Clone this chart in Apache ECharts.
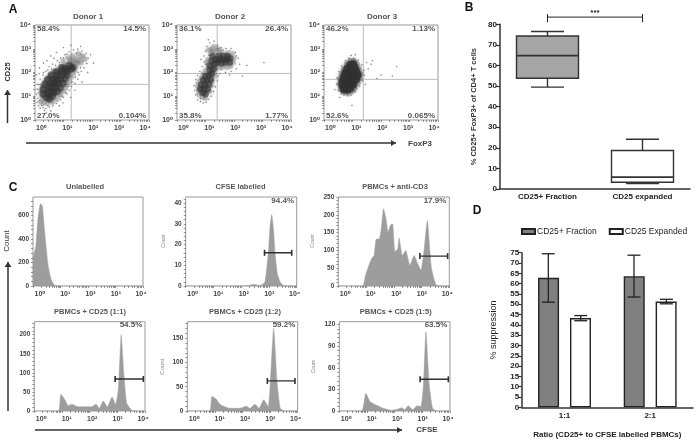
<!DOCTYPE html>
<html><head><meta charset="utf-8">
<style>html,body{margin:0;padding:0;background:#fff}#c{width:699px;height:445px;filter:blur(0.3px)}</style>
<script src="https://cdn.jsdelivr.net/npm/echarts@6/dist/echarts.min.js"></script>
</head><body><div id="c"></div>
<script>
// ---------- Panel A: flow plots, coordinates in decades (0..4) ----------
const donorNames = ['Donor 1','Donor 2','Donor 3'];
const donorGates = [[1.27,1.5],[1.41,1.96],[1.38,1.71]];
const donorPct = [['58.4%','14.5%','27.0%','0.104%'],['36.1%','26.4%','35.8%','1.77%'],['46.2%','1.13%','52.6%','0.065%']];
const d1Core = [[.4,.95],[.5,.9],[.6,1],[.3,1.1],[.45,1.15],[.55,1.2],[.65,1.15],[.78,1.2],[.3,1.3],[.48,1.35],[.6,1.4],[.72,1.38],[.88,1.35],[.36,1.5],[.55,1.55],[.68,1.55],[.8,1.55],[.98,1.55],[.45,1.7],[.62,1.72],[.75,1.7],[.88,1.72],[1.05,1.75],[.58,1.88],[.78,1.88],[.92,1.9],[1.12,1.9],[.75,2.02],[.95,2.05],[1.12,2.05],[1.25,2.15],[1.05,2.15],[.95,2.2],[1.2,2.28],[1.32,2.2]];
const d1Mid = [[.2,.75],[.3,.7],[.42,.72],[.55,.75],[.68,.82],[.8,.95],[.9,1.05],[1,1.2],[1.08,1.35],[1.12,1.48],[1.2,1.62],[1.28,1.8],[1.35,1.95],[1.4,2.1],[1.45,2.25],[1.5,2.4],[1.55,2.52],[1.35,2.5],[1.2,2.45],[1.05,2.35],[.9,2.25],[.78,2.12],[.65,2.05],[.52,1.9],[.42,1.75],[.32,1.6],[.25,1.42],[.2,1.25],[.22,1.05],[.25,.88],[1.3,2.3],[1.42,2.62],[1.6,2.65],[1.7,2.7],[1.75,2.55],[1.62,2.4],[1.15,2.62],[.98,2.5],[1.3,2.72],[1.52,2.8],[1.35,2.4],[1.45,2.45],[1.25,2.55]];
const d1Halo = [[.12,.6],[.18,.5],[.28,.52],[.38,.48],[.33,.4],[.5,.55],[.62,.6],[.75,.7],[.9,.85],[1,.95],[1.12,1.1],[1.2,1.25],[1.28,1.42],[1.4,1.55],[1.5,1.72],[1.55,1.9],[1.62,2.05],[1.72,2.2],[1.82,2.38],[1.86,2.6],[1.8,2.82],[1.65,2.9],[1.5,2.98],[1.35,2.95],[1.2,2.88],[1.05,2.75],[.9,2.62],[.78,2.5],[.62,2.35],[.5,2.25],[.38,2.05],[.28,1.9],[.18,1.72],[.1,1.5],[.08,1.3],[.06,1.1],[.1,.92],[.05,1.9],[.15,2.2],[.3,2.4],[.55,2.7],[.75,2.85],[1,3.05],[1.25,3.15],[1.6,3.1],[1.95,2.75],[2.05,2.4],[1.85,2],[1.65,1.6],[1.4,1.25],[1.25,.95],[.85,.6],[.55,.38],[.4,.3],[.98,.72],[.15,1.95],[.42,2.5],[.66,2.6],[.24,.62],[.15,.82],[.07,.75],[.18,1.5],[.14,1.15],[.3,2.0],[.45,2.1],[.58,2.15],[.72,2.3],[.85,2.42],[1,2.62],[1.12,2.78],[1.28,2.6],[1.45,2.8],[1.6,2.78],[1.68,2.5],[1.6,2.2],[1.52,2.0],[1.42,1.8],[1.3,1.6],[1.18,1.42],[1.08,1.15],[.95,1],[.8,.8],[.65,.68],[.45,.6]];
const d2Core = [[.9,1.15],[1,1.1],[.82,1.3],[.95,1.32],[1.08,1.3],[.85,1.48],[.98,1.5],[1.12,1.5],[.92,1.68],[1.05,1.68],[1.18,1.7],[1,1.85],[1.12,1.88],[1.22,1.95],[1.15,2.1],[1.28,2.15],[1.15,2.3],[1.3,2.35],[1.42,2.42],[1.22,2.5],[1.36,2.55],[1.5,2.55],[1.62,2.55],[1.75,2.55],[1.86,2.6],[1.46,2.7],[1.25,2.68],[1.7,2.42],[1.85,2.42],[1.56,2.38],[1.62,2.7],[1.78,2.7]];
const d2Mid = [[.78,1.05],[.9,.95],[1,.92],[.75,1.25],[.72,1.42],[.78,1.62],[.85,1.78],[.92,1.95],[1,2.1],[1.1,2.22],[1.3,2.05],[1.35,2.25],[1.45,2.2],[1.6,2.22],[1.75,2.22],[1.88,2.25],[1.98,2.42],[2,2.6],[1.95,2.8],[1.75,2.82],[1.55,2.85],[1.35,2.9],[1.18,2.8],[1.08,2.55],[1.05,2.42],[1.15,1.2],[1.22,1.45],[1.25,1.65],[1.32,1.85],[1.2,3],[1.3,3.1],[1.1,2.95],[1.42,3],[1.25,2.88],[1.5,2.95]];
const d2Halo = [[.72,.85],[.82,.78],[.92,.72],[1.02,.75],[1.12,.88],[.65,1.05],[.62,1.25],[.6,1.45],[.66,1.7],[.72,1.88],[.8,2.05],[.88,2.25],[.95,2.45],[.95,2.7],[1,2.9],[1.05,3.1],[1.15,3.25],[1.3,3.32],[1.42,3.15],[1.55,3.05],[1.72,3],[1.9,3.02],[2.05,2.85],[2.15,2.6],[2.2,2.35],[2.08,2.15],[1.9,2.05],[1.7,2],[1.5,1.95],[1.42,1.65],[1.35,1.4],[1.28,1.2],[1.2,1],[2.45,2.3],[3.05,2.42],[2.3,1.85],[1.45,1.85],[1.85,1.9],[1.1,3.38],[.84,2.55],[1,2.35],[1.12,2.72],[1.22,2.95],[1.42,3],[1.62,2.95],[1.85,2.92],[2.08,2.7],[1.4,2.12],[1.55,2.12],[1.38,1.95],[.7,1.1],[.68,1.55],[.82,.92]];
const d3Core = [[.7,1.3],[.82,1.28],[.92,1.35],[.65,1.45],[.78,1.45],[.9,1.5],[1.02,1.5],[.65,1.62],[.78,1.62],[.9,1.65],[1.02,1.68],[1.12,1.72],[.7,1.8],[.82,1.82],[.95,1.85],[1.08,1.88],[1.18,1.9],[.75,1.98],[.88,2],[1,2.05],[1.12,2.05],[.82,2.15],[.95,2.2],[1.07,2.2],[.92,2.32],[1.02,2.35]];
const d3Mid = [[.72,1.18],[.85,1.15],[.98,1.22],[1.08,1.35],[1.18,1.55],[1.26,1.75],[1.28,1.95],[1.22,2.15],[1.15,2.35],[1.05,2.48],[.92,2.48],[.8,2.35],[.7,2.15],[.62,1.95],[.57,1.75],[.55,1.52],[.6,1.3]];
const d3Halo = [[.7,1.05],[.82,1.02],[.95,1.05],[1.1,1.2],[1.25,1.42],[1.35,1.65],[1.42,1.88],[1.4,2.1],[1.32,2.32],[1.2,2.52],[1.05,2.6],[.88,2.6],[.75,2.5],[.62,2.28],[.52,2.05],[.46,1.78],[.45,1.5],[.5,1.25],[.6,1.1],[1.55,2.15],[1.65,2.35],[1.7,2.5],[1.5,2.42],[1.85,1.75],[2,1.9],[2.4,1.85],[2.55,2.25],[.55,.95],[.98,.62],[.95,2.72],[1.1,2.75],[1.45,1.5],[.38,1.28]];

// ---------- Panel C: histograms, x in decades (0..4) ----------
const histTitles = ['Unlabelled','CFSE labelled','PBMCs + anti-CD3','PBMCs + CD25 (1:1)','PBMCs + CD25 (1:2)','PBMCs + CD25 (1:5)'];
const histPct = ['', '94.4%', '17.9%', '54.5%', '59.2%', '63.5%'];
const histMax = [757, 42.9, 250, 234, 184, 124];
const histTicks = [[0,200,400,600],[0,10,20,30,40],[0,50,100,150,200,250],[0,50,100,150,200],[0,50,100,150],[0,30,60,90,120]];
const histGates = [null,[2.84,3.82,16],[2.94,3.94,84],[2.92,3.94,84],[2.9,3.9,62],[2.92,3.94,44]];
const hist1 = [[0,246],[.1,331],[.18,571],[.27,700],[.34,680],[.42,472],[.55,175],[.67,48],[.79,6],[.97,0],[4,0]];
const hist2 = [[0,0],[2.08,0],[2.26,.2],[2.44,.8],[2.62,.3],[2.74,.5],[2.86,2],[2.98,16.4],[3.04,29],[3.1,34.4],[3.16,28],[3.22,16],[3.3,6],[3.4,2],[3.52,.2],[4,0]];
const hist3 = [[0,0],[.88,0],[.98,30],[1.08,53],[1.2,77],[1.29,86],[1.36,131],[1.48,133],[1.55,161],[1.63,217],[1.72,189],[1.79,151],[1.89,172],[1.96,174],[2.04,97],[2.14,103],[2.19,135],[2.31,86],[2.43,100],[2.58,58],[2.73,86],[2.85,65],[2.98,44],[3.09,100],[3.21,184],[3.3,100],[3.36,49],[3.54,2],[4,0]];
const hist4 = [[0,0],[.87,0],[.96,44],[1.11,29],[1.23,14],[1.35,18],[1.59,11],[1.89,11],[2.07,11],[2.23,18],[2.35,7],[2.49,26],[2.64,11],[2.81,37],[2.94,17],[3.04,59],[3.14,200],[3.24,94],[3.34,20],[3.52,2],[3.64,0],[4,0]];
const hist5 = [[0,0],[.81,0],[.89,30],[1.04,25],[1.18,14],[1.36,9],[1.54,5.5],[1.9,5.5],[2.14,10],[2.27,5.5],[2.45,14],[2.6,5.5],[2.77,23],[2.93,9],[2.99,40],[3.13,170],[3.25,61],[3.37,5.5],[3.53,0],[4,0]];
const hist6 = [[0,0],[.81,0],[.96,24.5],[1.11,13],[1.35,8],[1.59,3.7],[1.89,.9],[2.13,2.8],[2.25,4.6],[2.37,1.9],[2.49,7.4],[2.65,1.9],[2.82,7.4],[2.95,6],[3.04,36],[3.13,110],[3.25,36],[3.37,3.7],[3.52,0],[4,0]];

// ---------- Panel B: box plot ----------
const boxCategories = ['CD25+ Fraction','CD25 expanded'];
const boxFraction = [49.5,53.8,64.8,74.3,76.5];   // low, q1, median, q3, high
const boxExpanded = [2.7,3.3,5.8,18.7,24.2];

// ---------- Panel D: bars ----------
const ratioCategories = ['1:1','2:1'];
const fractionMeans = [62.8,63.6];
const fractionErr = [[51,74.5],[53.5,73.8]];
const expandedMeans = [43.3,51.3];
const expandedErr = [[42,44.5],[50.2,52.4]];

// ---------- Helpers ----------
const FONT = "'Liberation Sans','DejaVu Sans',sans-serif";
const SUP = ['\u2070','\u00b9','\u00b2','\u00b3','\u2074'];
const logTicks = [];
for (let d = 0; d < 4; d++) for (let m = 1; m < 10; m++) logTicks.push(d + Math.log10(m));
logTicks.push(4);
const grid = [], xAxis = [], yAxis = [], series = [], graphic = [];

function txt(x, y, s, o) {
  o = o || {};
  graphic.push({type:'text', x:x, y:y, rotation:o.rot||0, z:50, style:{text:s, fill:o.c||'#444',
    font:(o.w||'bold')+' '+(o.s||7)+'px '+FONT, textAlign:o.a||'center', textVerticalAlign:'middle'}});
}
function arrow(x1,y1,x2,y2) {
  graphic.push({type:'line', z:40, shape:{x1,y1,x2,y2}, style:{stroke:'#333', lineWidth:1.5}});
  const h = x1===x2;
  const pts = h ? [[x2-3.5,y2+5],[x2,y2],[x2+3.5,y2+5]] : [[x2-5,y2-3],[x2,y2],[x2-5,y2+3]];
  graphic.push({type:'polygon', z:41, shape:{points:pts}, style:{fill:'#333'}});
}
function flowAxes(r, lab0, lab4, ymax, yT) {
  const gi = grid.length;
  grid.push({left:r[0], top:r[1], width:r[2]-r[0], height:r[3]-r[1], show:true, borderColor:'#999', borderWidth:1, backgroundColor:'#fff'});
  const xi = xAxis.length;
  xAxis.push({gridIndex:gi, type:'value', min:0, max:4, position:'bottom',
    axisLine:{show:false}, splitLine:{show:false}, axisLabel:{show:false},
    axisTick:{show:true, length:2, customValues:logTicks, lineStyle:{color:'#555',width:.6}}});
  const dec = (lab4-lab0)/4, lmin = -(lab0-r[0])/dec, lmax = (r[2]-lab0)/dec;
  xAxis.push({gridIndex:gi, type:'value', min:lmin, max:lmax, position:'bottom',
    axisLine:{show:false}, axisTick:{show:false}, splitLine:{show:false},
    axisLabel:{show:true, customValues:[0,1,2,3,4], margin:5, fontSize:7, fontWeight:'bold', color:'#444', fontFamily:FONT,
      hideOverlap:false, formatter:v=>'10'+SUP[Math.round(v)]}});
  const yi = yAxis.length;
  yAxis.push({gridIndex:gi, type:'value', min:0, max:ymax, axisLine:{show:false}, splitLine:{show:false},
    axisTick:{show:true, length:2, customValues:yT.ticks, lineStyle:{color:'#555',width:.6}},
    axisLabel:{show:true, customValues:yT.labels, margin:4, fontSize:yT.fs||7, fontWeight:'bold', color:'#444', fontFamily:FONT,
      hideOverlap:false, formatter:yT.fmt}});
  return {xi, yi};
}
function scatterLayer(a, pts, size, color, op, blur) {
  series.push({type:'scatter', xAxisIndex:a.xi, yAxisIndex:a.yi, data:pts, symbolSize:size, silent:true,
    itemStyle:{color:color, opacity:op, shadowBlur:blur||0, shadowColor:color}, z:3});
}
function thinLine(a, pts) {
  series.push({type:'line', xAxisIndex:a.xi, yAxisIndex:a.yi, data:pts, symbol:'none', silent:true,
    lineStyle:{color:'#bdbdbd', width:1}, z:2});
}

// ---------- Build Panel A ----------
const aRects = [[35,25,149,120],[177,25,291,120],[324,25,438,120]];
const aClouds = [[d1Core,d1Mid,d1Halo],[d2Core,d2Mid,d2Halo],[d3Core,d3Mid,d3Halo]];
const aTitleX = [88,230,382];
aRects.forEach((r,i)=>{
  const a = flowAxes(r, r[0]+6.5, r[2]-4, 4, {ticks:logTicks, labels:[0,1,2,3,4], fmt:v=>'10'+SUP[Math.round(v)]});
  thinLine(a, [[donorGates[i][0],0],[donorGates[i][0],4]]);
  thinLine(a, [[0,donorGates[i][1]],[4,donorGates[i][1]]]);
  const [core,mid,halo] = aClouds[i];
  scatterLayer(a, halo, 1.3, '#666', .7, 1);
  scatterLayer(a, mid, i===2?6:5, '#777', i===2?.5:.32, 3);
  scatterLayer(a, core, i===2?8:(i===1?6.5:7.5), '#333', i===2?.75:.5, 2);
  txt(aTitleX[i], 17, donorNames[i], {s:8,c:'#555'});
  const p = donorPct[i];
  txt(r[0]+2, 29, p[0], {a:'left',s:8,c:'#555'});
  txt(r[2]-3, 29, p[1], {a:'right',s:8,c:'#555'});
  txt(r[0]+2, 116, p[2], {a:'left',s:8,c:'#555'});
  txt(r[2]-3, 116, p[3], {a:'right',s:8,c:'#555'});
});
txt(13,10,'A',{s:12,c:'#111'});
txt(8,72,'CD25',{rot:Math.PI/2,s:7.5,c:'#333'});
arrow(7.5,123,7.5,90);
arrow(26,143,396,143);
txt(420,144,'FoxP3',{s:8,c:'#444'});

// ---------- Build Panel C ----------
const cRects = [[33,197,143,286],[185.7,197,296.7,286],[338.3,197,449.3,286],[34.3,321.7,145,411],[187.3,321.7,297.7,411],[339.3,321.7,450,411]];
const histData = [hist1,hist2,hist3,hist4,hist5,hist6];
const cTitleX = [85,240.5,395,90,245,395.7];
const cPctX = [0,282.7,435,131,284,436];
const cCountX = [0,164,313,0,162,314];
cRects.forEach((r,i)=>{
  const t = histTicks[i], step = t[1]-t[0], minor = [];
  for (let v=0; v<=histMax[i]; v+=step/5) minor.push(+v.toFixed(3));
  const a = flowAxes(r, r[0]+7, r[2]-2, histMax[i], {ticks:minor, labels:t, fs:6.5, fmt:v=>String(v)});
  series.push({type:'line', xAxisIndex:a.xi, yAxisIndex:a.yi, data:histData[i], symbol:'none', silent:true, smooth:.15,
    lineStyle:{color:'#a3a3a3', width:.5}, areaStyle:{color:'#989898', opacity:.95}, z:3});
  const g = histGates[i];
  if (g) series.push({type:'line', xAxisIndex:a.xi, yAxisIndex:a.yi, data:[[g[0],g[2]],[g[1],g[2]]], silent:true,
    symbol:'rect', symbolSize:[1.6,6], showSymbol:true, itemStyle:{color:'#2f2f2f'}, lineStyle:{color:'#2f2f2f', width:1.4}, z:5});
  txt(cTitleX[i], r[1]-10, histTitles[i], {s:7.5,c:'#555'});
  if (histPct[i]) txt(cPctX[i], r[1]+3.5, histPct[i], {s:8,c:'#555'});
  if (cCountX[i]) txt(cCountX[i], r[1]+(i<3?44:45), 'Count', {rot:Math.PI/2,s:i===4?6:5,c:'#888',w:'normal'});
});
txt(13,188,'C',{s:12,c:'#111'});
txt(7,241,'Count',{rot:Math.PI/2,s:8,c:'#333',w:'normal'});
arrow(8,411,8,262);
arrow(35,430,402,430);
txt(427,430,'CFSE',{s:8,c:'#444'});

// ---------- Build Panel B ----------
const bGi = grid.length;
grid.push({left:500, top:24.3, width:190, height:164.7});
const bX = xAxis.length, bY = yAxis.length;
xAxis.push({gridIndex:bGi, type:'category', data:boxCategories, axisTick:{show:false},
  axisLine:{lineStyle:{color:'#333',width:1.5}},
  axisLabel:{margin:4, fontSize:8, fontWeight:'bold', color:'#222', fontFamily:FONT}});
yAxis.push({gridIndex:bGi, type:'value', min:0, max:80, interval:10, splitLine:{show:false},
  axisLine:{show:true, lineStyle:{color:'#333',width:1.5}}, axisTick:{show:true, length:4, lineStyle:{color:'#333',width:1.2}},
  axisLabel:{margin:3, fontSize:8, fontWeight:'bold', color:'#222', fontFamily:FONT},
  name:'% CD25+ FoxP3+ of CD4+ T cells', nameLocation:'middle', nameGap:22,
  nameTextStyle:{fontSize:7.5, fontWeight:'bold', color:'#333', fontFamily:FONT}});
const boxFills = ['#a5a5a5','#ffffff'];
series.push({type:'custom', xAxisIndex:bX, yAxisIndex:bY, silent:true, z:5,
  data:[[0].concat(boxFraction),[1].concat(boxExpanded)],
  encode:{x:0,y:[1,2,3,4,5]},
  renderItem(params, api){
    const c = api.value(0), P = v=>api.coord([c,v]);
    const lo=P(api.value(1)), q1=P(api.value(2)), md=P(api.value(3)), q3=P(api.value(4)), hi=P(api.value(5));
    const x=lo[0], hw=31, cap=16.5;
    const ln=(a,b,d,e,w)=>({type:'line',shape:{x1:a,y1:b,x2:d,y2:e},style:{stroke:'#333',lineWidth:w||1.4}});
    return {type:'group',children:[
      ln(x,lo[1],x,q1[1]), ln(x,q3[1],x,hi[1]), ln(x-cap,lo[1],x+cap,lo[1]), ln(x-cap,hi[1],x+cap,hi[1]),
      {type:'rect',shape:{x:x-hw,y:q3[1],width:2*hw,height:q1[1]-q3[1]},style:{fill:boxFills[params.dataIndex],stroke:'#333',lineWidth:1.4}},
      ln(x-hw,md[1],x+hw,md[1],1.8)
    ]};
  }});
const sigBracket = [[0,1,83.5,85,81]];
series.push({type:'custom', xAxisIndex:bX, yAxisIndex:bY, silent:true, z:6, data:sigBracket, encode:{x:0,y:2},
  renderItem(params, api){
    const L=api.coord([api.value(0),api.value(2)]), R=api.coord([api.value(1),api.value(2)]);
    const t=api.coord([0,api.value(3)])[1], b=api.coord([0,api.value(4)])[1];
    const ln=(a,c,d,e)=>({type:'line',shape:{x1:a,y1:c,x2:d,y2:e},style:{stroke:'#222',lineWidth:1}});
    return {type:'group',children:[ln(L[0],L[1],R[0],R[1]),ln(L[0],t,L[0],b),ln(R[0],t,R[0],b),
      {type:'text',style:{x:(L[0]+R[0])/2,y:L[1]-4,text:'***',font:'bold 8px '+FONT,fill:'#222',textAlign:'center',textVerticalAlign:'middle'}}]};
  }});
txt(469,8,'B',{s:12,c:'#111'});

// ---------- Build Panel D ----------
const dGi = grid.length;
grid.push({left:521.7, top:252.7, width:171.3, height:154.6});
const dX = xAxis.length, dY = yAxis.length;
xAxis.push({gridIndex:dGi, type:'category', data:ratioCategories, axisTick:{show:false},
  axisLine:{lineStyle:{color:'#333',width:1.5}},
  axisLabel:{margin:4, fontSize:8, fontWeight:'bold', color:'#222', fontFamily:FONT},
  name:'Ratio (CD25+ to CFSE labelled PBMCs)', nameLocation:'middle', nameGap:23,
  nameTextStyle:{fontSize:8, fontWeight:'bold', color:'#222', fontFamily:FONT}});
yAxis.push({gridIndex:dGi, type:'value', min:0, max:75, interval:5, splitLine:{show:false},
  axisLine:{show:true, lineStyle:{color:'#333',width:1.5}}, axisTick:{show:true, length:3.5, lineStyle:{color:'#333',width:1.2}},
  axisLabel:{margin:2.5, fontSize:8, fontWeight:'bold', color:'#222', fontFamily:FONT},
  name:'% suppression', nameLocation:'middle', nameGap:24,
  nameTextStyle:{fontSize:9, color:'#222', fontFamily:FONT}});
function barS(name, vals, fill){
  series.push({type:'bar', name, xAxisIndex:dX, yAxisIndex:dY, data:vals, barWidth:21, barGap:'52%', silent:true,
    itemStyle:{color:fill, borderColor:'#222', borderWidth:1.4}, z:3});
}
barS('CD25+ Fraction', fractionMeans, '#808080');
barS('CD25 Expanded', expandedMeans, '#ffffff');
function errS(errs, off){
  series.push({type:'custom', xAxisIndex:dX, yAxisIndex:dY, silent:true, z:6,
    data:errs.map((e,i)=>[i,e[0],e[1]]), encode:{x:0,y:[1,2]},
    renderItem(params, api){
      const lo=api.coord([api.value(0),api.value(1)]), hi=api.coord([api.value(0),api.value(2)]);
      const x=lo[0]+off, cap=6.5;
      const ln=(a,b,d,e)=>({type:'line',shape:{x1:a,y1:b,x2:d,y2:e},style:{stroke:'#222',lineWidth:1.3}});
      return {type:'group',children:[ln(x,lo[1],x,hi[1]),ln(x-cap,lo[1],x+cap,lo[1]),ln(x-cap,hi[1],x+cap,hi[1])]};
    }});
}
errS(fractionErr, -16.2);
errS(expandedErr, 16.2);
txt(477,211,'D',{s:12,c:'#111'});

const chart = echarts.init(document.getElementById('c'), null, {width:699, height:445, renderer:'canvas'});
chart.setOption({
  animation:false, backgroundColor:'#fff', textStyle:{fontFamily:FONT},
  legend:{data:['CD25+ Fraction','CD25 Expanded'], left:521, top:227, padding:0, width:178, icon:'rect', itemWidth:13, itemHeight:5, itemGap:12, selectedMode:false,
    textStyle:{fontSize:8.5, color:'#222', fontFamily:FONT, padding:[0,0,0,-3]}},
  grid, xAxis, yAxis, series, graphic
});
</script></body></html>
